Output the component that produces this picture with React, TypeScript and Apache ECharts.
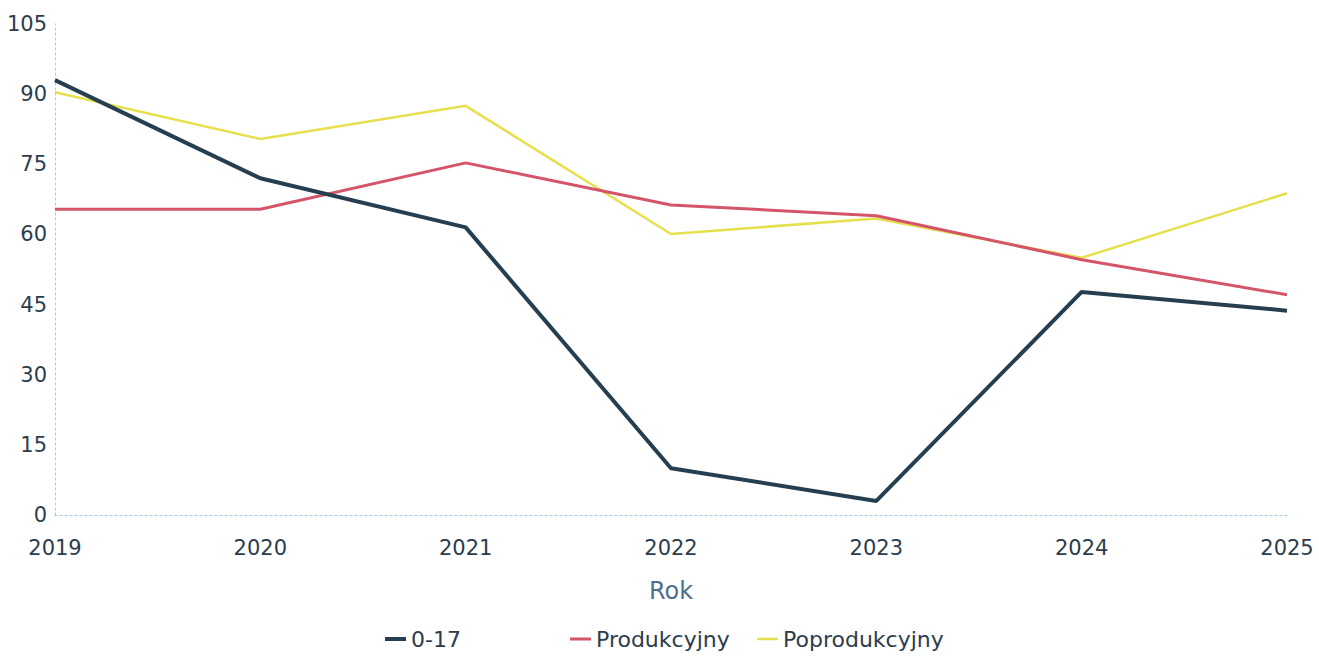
import React, { useEffect, useRef } from "react";
import * as echarts from "echarts";

const years = ["2019", "2020", "2021", "2022", "2023", "2024", "2025"];
const grp017 = [93, 72, 61.5, 10, 3, 47.7, 43.7];
const produkcyjny = [65.4, 65.4, 75.3, 66.3, 64.0, 54.6, 47.1];
const poprodukcyjny = [90.4, 80.4, 87.5, 60.1, 63.4, 55.0, 68.8];
const seriesNames = ["0-17", "Produkcyjny", "Poprodukcyjny"];
const colors = ["#263f50", "#d4546a", "#e6df4e"];
const widths = [4, 3, 2.5];

export default function App() {
  const ref = useRef<HTMLDivElement>(null);
  useEffect(() => {
    document.body.style.margin = "0";
    const chart = echarts.init(ref.current!, null, { renderer: "svg" });
    const textColor = "#2b3d4c";
    const font = "DejaVu Sans";
    const legendLefts = [385, 570, 757];
    const data = [grp017, produkcyjny, poprodukcyjny];
    chart.setOption({
      animation: false,
      backgroundColor: "#ffffff",
      grid: { left: 55, right: 32, top: 24, bottom: 141, containLabel: false },
      legend: seriesNames.map((n, i) => ({
        data: [{ name: n, icon: "rect" }],
        left: legendLefts[i],
        top: 628,
        padding: 0,
        itemWidth: 21,
        itemHeight: widths[i],
        itemGap: 0,
        textStyle: { color: textColor, fontFamily: font, fontSize: 22 },
      })),
      xAxis: {
        type: "category",
        data: years,
        boundaryGap: false,
        name: "Rok",
        nameLocation: "middle",
        nameGap: 64,
        nameTextStyle: { color: "#4e6f90", fontFamily: font, fontSize: 24 },
        axisLine: { show: true, lineStyle: { color: "#9cc8ea", type: [2, 3], width: 1 } },
        axisTick: { show: false },
        axisLabel: { color: textColor, fontFamily: font, fontSize: 21, margin: 22 },
        splitLine: { show: false },
      },
      yAxis: {
        type: "value",
        min: 0,
        max: 105,
        interval: 15,
        axisLine: { show: true, lineStyle: { color: "#9cc8ea", type: [2, 3], width: 1 } },
        axisTick: { show: false },
        axisLabel: { color: textColor, fontFamily: font, fontSize: 21, margin: 8 },
        splitLine: { show: false },
      },
      series: seriesNames.map((n, i) => ({
        name: n,
        type: "line",
        data: data[i],
        symbol: "none",
        itemStyle: { color: colors[i] },
        lineStyle: { color: colors[i], width: widths[i] },
        z: 3 - i,
      })),
    });
    return () => chart.dispose();
  }, []);
  return <div ref={ref} style={{ width: 1319, height: 656 }} />;
}
